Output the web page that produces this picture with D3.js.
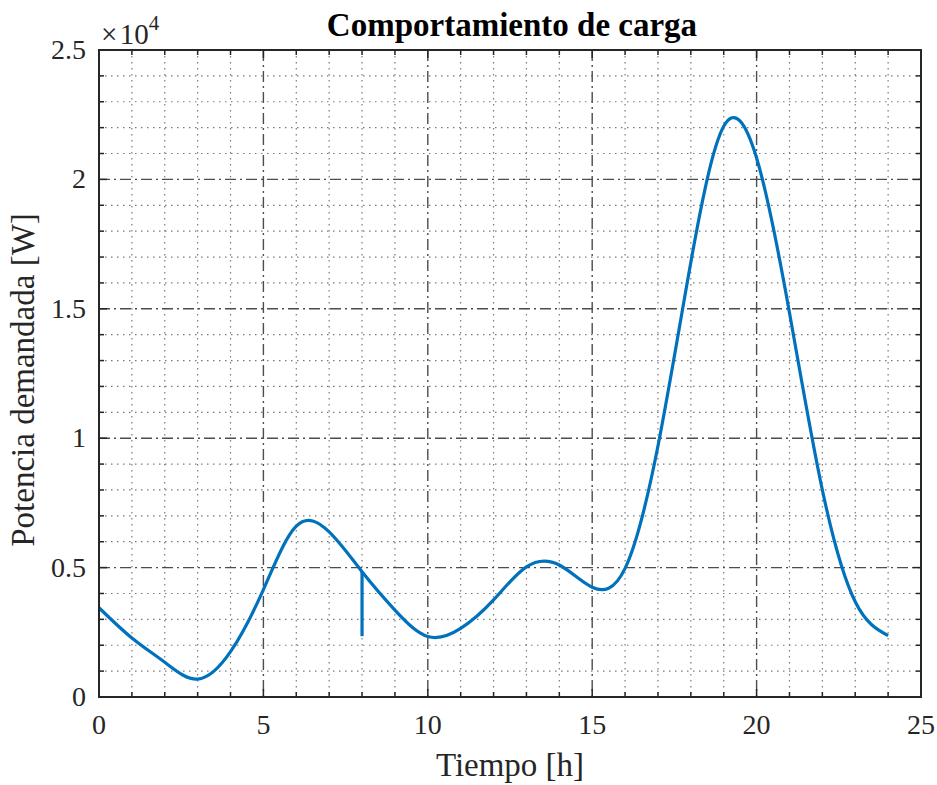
<!DOCTYPE html>
<html>
<head>
<meta charset="utf-8">
<script src="https://cdn.jsdelivr.net/npm/d3@7"></script>
<style>
  body { margin: 0; background: #fff; }
  text { font-family: "Liberation Serif", "Times New Roman", serif; fill: #262626; }
</style>
</head>
<body>
<div id="chart"></div>
<script>
// hourly load
var hours = [0, 1, 2, 3, 4, 5, 6, 7, 8, 9, 10, 11, 12, 13, 14, 15, 16, 17, 18, 19, 20, 21, 22, 23, 24];
var demand = [3450, 2280, 1340, 690, 1750, 4150, 6600, 6380, 4840, 3360, 2340, 2650, 3750, 5030,
  5100, 4240, 4970, 9700, 16800, 22050, 20830, 14850, 8000, 3680, 2370];
// the vertical drop at 8 h
var spikeHours = [8, 8];
var spikeDemand = [4840, 2350];

var xTicks = [0, 5, 10, 15, 20, 25];
var yTicks = [0, 5000, 10000, 15000, 20000, 25000];
var yTickLabels = ["0", "0.5", "1", "1.5", "2", "2.5"];

var margin = {top: 50, right: 16, bottom: 88, left: 99},
  width = 937 - margin.left - margin.right,
  height = 785 - margin.top - margin.bottom;

var svg = d3.select("#chart")
  .append("svg")
  .attr("width", 937)
  .attr("height", 785);

var g = svg.append("g")
  .attr("transform", "translate(" + margin.left + "," + margin.top + ")");

var x = d3.scaleLinear().domain([0, 25]).range([0, width]);
var y = d3.scaleLinear().domain([0, 25000]).range([height, 0]);

var minorX = d3.range(0, 26, 1).filter(function(d) { return d % 5 !== 0; });
var minorY = d3.range(0, 25001, 1000).filter(function(d) { return d % 5000 !== 0; });

// minor grid
g.selectAll(".minor-x").data(minorX).enter().append("line")
  .attr("x1", d => x(d)).attr("x2", d => x(d))
  .attr("y1", 0).attr("y2", height)
  .attr("stroke", "#7a7a7a").attr("stroke-width", 1.2)
  .attr("stroke-dasharray", "1.5,4.5");
g.selectAll(".minor-y").data(minorY).enter().append("line")
  .attr("x1", 0).attr("x2", width)
  .attr("y1", d => y(d)).attr("y2", d => y(d))
  .attr("stroke", "#7a7a7a").attr("stroke-width", 1.2)
  .attr("stroke-dasharray", "1.5,4.5");

// major grid (dash-dot)
g.selectAll(".major-x").data(xTicks.slice(1, -1)).enter().append("line")
  .attr("x1", d => x(d)).attr("x2", d => x(d))
  .attr("y1", 0).attr("y2", height)
  .attr("stroke", "#4d4d4d").attr("stroke-width", 1.4)
  .attr("stroke-dasharray", "11,4,2,4");
g.selectAll(".major-y").data(yTicks.slice(1, -1)).enter().append("line")
  .attr("x1", 0).attr("x2", width)
  .attr("y1", d => y(d)).attr("y2", d => y(d))
  .attr("stroke", "#4d4d4d").attr("stroke-width", 1.4)
  .attr("stroke-dasharray", "11,4,2,4");

// the load curve
var pts = hours.map(function(h, i) { return [h, demand[i]]; });
var line = d3.line()
  .x(d => x(d[0]))
  .y(d => y(d[1]))
  .curve(d3.curveNatural);
g.append("path")
  .datum(pts)
  .attr("fill", "none")
  .attr("stroke", "#0072BD")
  .attr("stroke-width", 3.2)
  .attr("d", line);

var spike = spikeHours.map(function(h, i) { return [h, spikeDemand[i]]; });
g.append("path")
  .datum(spike)
  .attr("fill", "none")
  .attr("stroke", "#0072BD")
  .attr("stroke-width", 3.2)
  .attr("d", d3.line().x(d => x(d[0])).y(d => y(d[1])));

// axes with inward ticks on all four sides
var tickLen = 8, minorLen = 5;
var allX = d3.range(0, 26, 1), allY = d3.range(0, 25001, 1000);
function tickSet(vals, isX, edge) {
  g.selectAll(null).data(vals).enter().append("line")
    .attr("x1", d => isX ? x(d) : edge)
    .attr("x2", d => isX ? x(d) : edge + (edge === 0 ? 1 : -1) * (d % 5000 === 0 ? tickLen : minorLen))
    .attr("y1", d => isX ? edge : y(d))
    .attr("y2", d => isX ? edge + (edge === 0 ? 1 : -1) * (d % 5 === 0 ? tickLen : minorLen) : y(d))
    .attr("stroke", "#262626").attr("stroke-width", 1.5);
}
tickSet(allX, true, height);
tickSet(allX, true, 0);
tickSet(allY, false, 0);
tickSet(allY, false, width);

g.append("rect")
  .attr("x", 0).attr("y", 0)
  .attr("width", width).attr("height", height)
  .attr("fill", "none")
  .attr("stroke", "#262626")
  .attr("stroke-width", 2);

// tick labels
g.selectAll(".xlab").data(xTicks).enter().append("text")
  .attr("x", d => x(d))
  .attr("y", height + 37)
  .attr("text-anchor", "middle")
  .style("font-size", "28px")
  .text(d => d);
g.selectAll(".ylab").data(yTicks).enter().append("text")
  .attr("x", -13)
  .attr("y", d => y(d) + 9)
  .attr("text-anchor", "end")
  .style("font-size", "28px")
  .text((d, i) => yTickLabels[i]);

// exponent
var ex = g.append("text")
  .attr("x", 2)
  .attr("y", -6)
  .style("font-size", "29px");
ex.append("tspan").text("\u00d7\u200a10");
ex.append("tspan").attr("dy", -14).style("font-size", "21px").text("4");

// title and axis labels
svg.append("text")
  .attr("x", margin.left + width / 2 + 2)
  .attr("y", 36)
  .attr("text-anchor", "middle")
  .style("font-size", "33px")
  .style("font-weight", "bold")
  .style("fill", "#000")
  .text("Comportamiento de carga");

svg.append("text")
  .attr("x", margin.left + width / 2)
  .attr("y", 776)
  .attr("text-anchor", "middle")
  .style("font-size", "33px")
  .text("Tiempo [h]");

svg.append("text")
  .attr("transform", "translate(34,380) rotate(-90)")
  .attr("text-anchor", "middle")
  .style("font-size", "33px")
  .text("Potencia demandada [W]");
</script>
</body>
</html>
